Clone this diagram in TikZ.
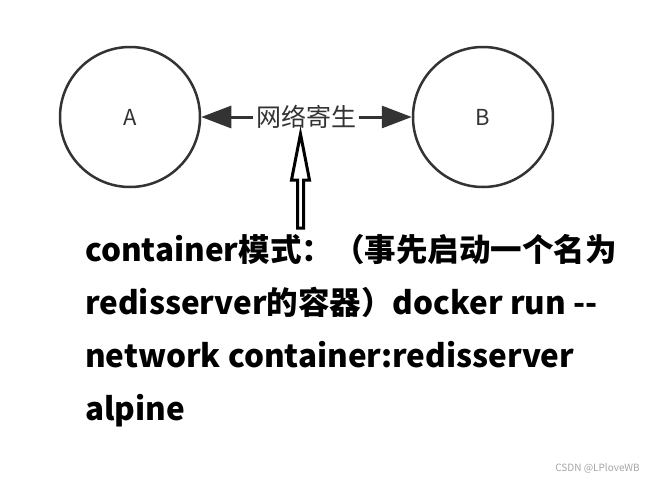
\documentclass[tikz,border=0pt]{standalone}
\usepackage{fontspec}
\newfontfamily\cjk{Noto Sans CJK SC}
\usetikzlibrary{arrows.meta}
\definecolor{ink}{HTML}{333333}
\tikzset{
  peer/.style={draw=ink,line width=2.5pt,circle,minimum size=140pt,inner sep=0pt,font=\cjk\fontsize{22}{22}\selectfont,text=ink},
  link/.style={draw=ink,line width=3pt,-{Triangle[length=30pt,width=22pt]}}
}
\begin{document}
\begin{tikzpicture}[x=1pt,y=-1pt]
\useasboundingbox[fill=white] (0,0) rectangle (651,483);
\node[peer] (A) at (130,117) {A};
\node[peer] (B) at (483,117) {B};
\node[inner sep=3pt,font=\cjk\fontsize{25}{25}\selectfont,text=ink] (lbl) at (306,117) {网络寄生};
\draw[link] (lbl.west) -- (A.east);
\draw[link] (lbl.east) -- (B.west);
\coordinate (tip) at (300.5,134);
\draw[line width=3pt,line join=miter] (tip) -- ++(-9,46) -- ++(6,0) -- ++(0,48) -- ++(6,0) -- ++(0,-48) -- ++(6,0) -- cycle;
\node[anchor=base west,inner sep=0pt,align=left,font=\cjk\bfseries\fontsize{31.5}{52.7}\selectfont] (cmd) at (85,420)
  {container模式：（事先启动一个名为\\redisserver的容器）docker run -{}-\\network container:redisserver\\alpine};
\node[anchor=east,inner sep=0pt,font=\cjk\fontsize{10}{10}\selectfont,text=black!35] (mark) at (640,468) {CSDN @LPloveWB};
\end{tikzpicture}
\end{document}
